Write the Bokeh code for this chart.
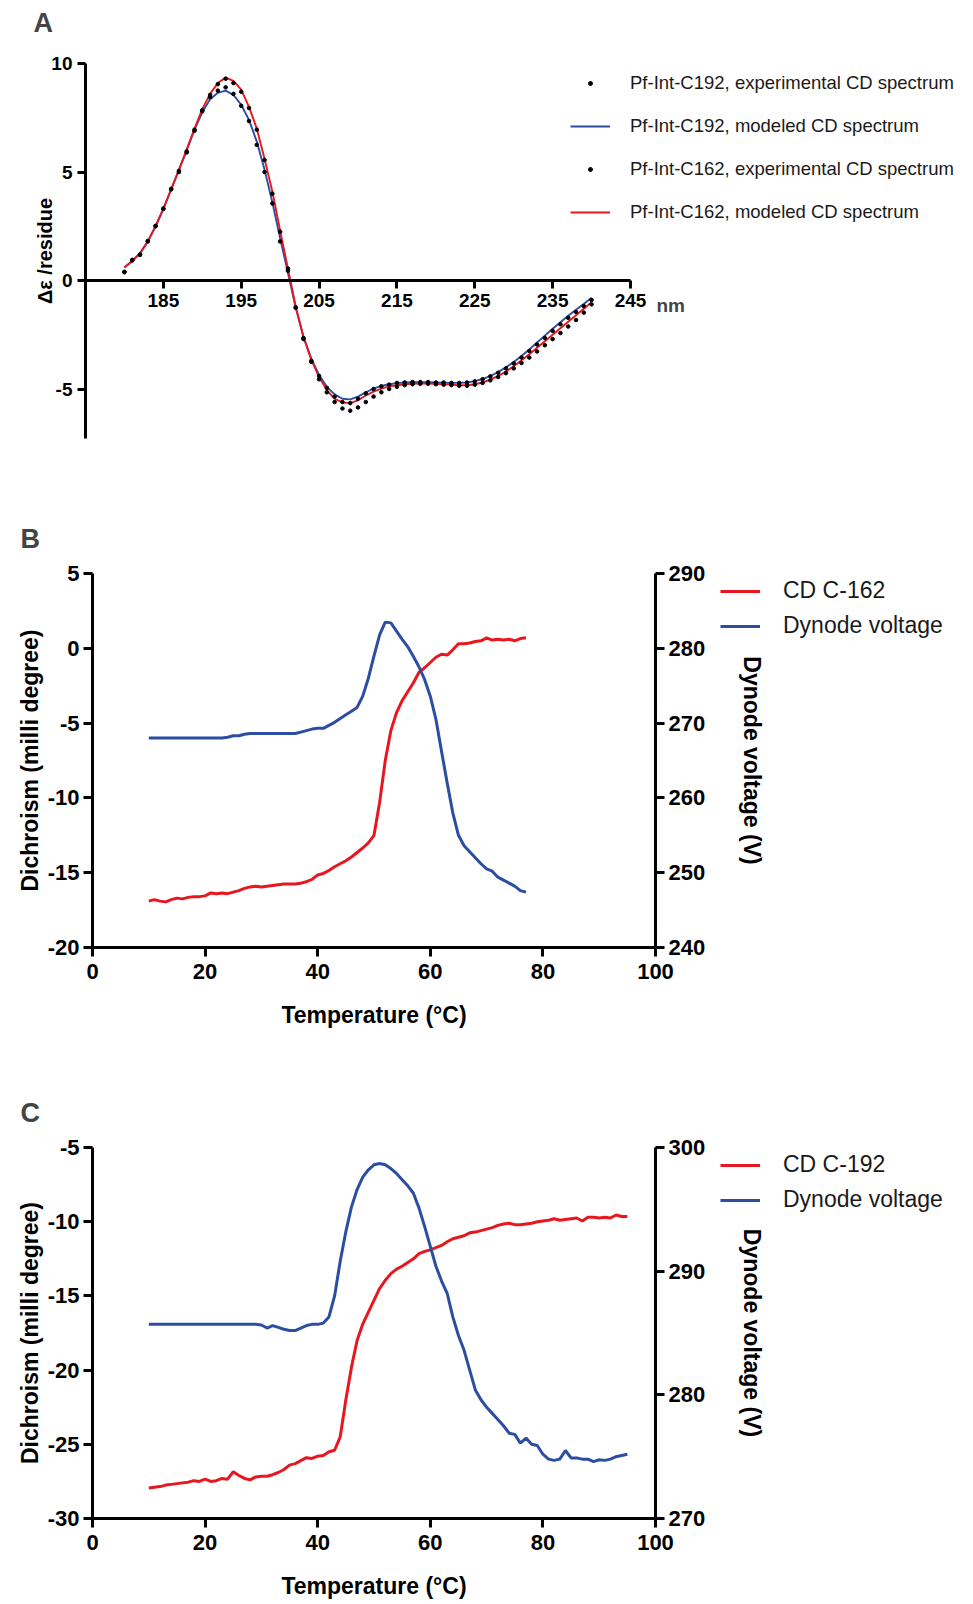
from bokeh.plotting import figure
from bokeh.models import Range1d, LinearAxis, FixedTicker, Legend, LegendItem, Label
from bokeh.layouts import column
from bokeh.embed import file_html
from bokeh.resources import INLINE

FONT = "Liberation Sans"
RED = "#E8171F"
BLUE = "#2B4EA2"

# ---------------- Panel A data ----------------
wavelength = list(range(180, 241))
exp_c192 = [0.38, 0.92, 1.18, 1.80, 2.50, 3.30, 4.20, 5.00, 5.90, 6.90,
            7.80, 8.45, 8.75, 8.90, 8.60, 8.05, 7.35, 6.25, 5.00, 3.55,
            1.80, 0.45, -1.25, -2.65, -3.70, -4.40, -4.95, -5.35, -5.60, -5.65,
            -5.45, -5.20, -5.00, -4.88, -4.80, -4.72, -4.70, -4.68, -4.68, -4.68,
            -4.70, -4.70, -4.72, -4.72, -4.70, -4.65, -4.55, -4.42, -4.25, -4.05,
            -3.82, -3.55, -3.25, -2.95, -2.65, -2.32, -2.02, -1.72, -1.45, -1.18, -0.90]
model_c192 = [0.60, 0.90, 1.25, 1.80, 2.50, 3.30, 4.20, 5.10, 6.00, 6.95,
              7.75, 8.35, 8.65, 8.75, 8.55, 8.10, 7.40, 6.40, 5.10, 3.60,
              1.95, 0.35, -1.25, -2.60, -3.60, -4.35, -4.90, -5.25, -5.45, -5.48,
              -5.35, -5.15, -4.98, -4.86, -4.78, -4.73, -4.70, -4.69, -4.69, -4.69,
              -4.70, -4.71, -4.72, -4.72, -4.70, -4.64, -4.54, -4.40, -4.22, -4.00,
              -3.76, -3.48, -3.18, -2.86, -2.54, -2.22, -1.92, -1.62, -1.35, -1.08, -0.80]
exp_c162 = [0.40, 0.95, 1.20, 1.82, 2.52, 3.32, 4.22, 5.05, 5.95, 6.95,
            7.85, 8.55, 9.05, 9.30, 9.10, 8.70, 7.95, 6.95, 5.55, 4.00,
            2.25, 0.55, -1.25, -2.70, -3.75, -4.55, -5.15, -5.60, -5.90, -6.00,
            -5.85, -5.60, -5.35, -5.15, -5.00, -4.90, -4.82, -4.78, -4.76, -4.76,
            -4.78, -4.80, -4.82, -4.85, -4.85, -4.80, -4.72, -4.60, -4.45, -4.27,
            -4.05, -3.80, -3.55, -3.27, -2.98, -2.70, -2.42, -2.12, -1.82, -1.48, -1.10]
model_c162 = [0.60, 0.90, 1.25, 1.80, 2.50, 3.30, 4.20, 5.10, 6.05, 7.00,
              7.90, 8.60, 9.10, 9.35, 9.20, 8.80, 8.00, 7.00, 5.60, 4.10,
              2.30, 0.55, -1.20, -2.60, -3.65, -4.45, -5.05, -5.45, -5.62, -5.65,
              -5.52, -5.30, -5.12, -4.98, -4.88, -4.83, -4.78, -4.76, -4.75, -4.75,
              -4.76, -4.78, -4.80, -4.83, -4.83, -4.78, -4.70, -4.57, -4.40, -4.20,
              -3.95, -3.68, -3.40, -3.10, -2.80, -2.50, -2.20, -1.90, -1.60, -1.30, -1.00]
a_xticks = [185, 195, 205, 215, 225, 235, 245]
a_yticks = [-5, 0, 5, 10]

# ---------------- Panel B data ----------------
temp_b = list(range(10, 78))
cd_c162 = [-16.9, -16.8, -16.9, -16.95, -16.8, -16.7, -16.75, -16.65, -16.6, -16.6,
           -16.55, -16.35, -16.4, -16.35, -16.4, -16.3, -16.2, -16.05, -15.95, -15.9,
           -15.95, -15.9, -15.85, -15.8, -15.75, -15.75, -15.75, -15.7, -15.6, -15.45,
           -15.15, -15.05, -14.85, -14.6, -14.4, -14.2, -13.95, -13.65, -13.35, -13.0,
           -12.5, -10.3, -7.5, -5.5, -4.3, -3.5, -2.9, -2.3, -1.6, -1.3,
           -0.95, -0.6, -0.4, -0.45, -0.1, 0.3, 0.3, 0.35, 0.45, 0.5,
           0.7, 0.55, 0.6, 0.55, 0.6, 0.5, 0.65, 0.7]
dyn_b = [268.0, 268.0, 268.0, 268.0, 268.0, 268.0, 268.0, 268.0, 268.0, 268.0,
         268.0, 268.0, 268.0, 268.0, 268.1, 268.3, 268.3, 268.5, 268.6, 268.6,
         268.6, 268.6, 268.6, 268.6, 268.6, 268.6, 268.6, 268.8, 269.0, 269.2,
         269.3, 269.3, 269.7, 270.1, 270.6, 271.1, 271.6, 272.1, 273.6, 276.0,
         279.0, 281.8, 283.5, 283.4, 282.3, 281.2, 280.2, 278.9, 277.5, 275.8,
         273.6, 270.5, 266.2, 262.0, 258.0, 255.0, 253.6, 252.8, 252.0, 251.2,
         250.5, 250.2, 249.4, 249.0, 248.6, 248.2, 247.6, 247.4]
b_left_ticks = [-20, -15, -10, -5, 0, 5]
b_right_ticks = [240, 250, 260, 270, 280, 290]

# ---------------- Panel C data ----------------
temp_c = list(range(10, 96))
cd_c192 = [-27.95, -27.9, -27.85, -27.75, -27.7, -27.65, -27.6, -27.55, -27.45, -27.5,
           -27.35, -27.5, -27.45, -27.3, -27.35, -26.85, -27.1, -27.3, -27.4, -27.2,
           -27.15, -27.15, -27.05, -26.9, -26.7, -26.4, -26.3, -26.1, -25.9, -25.95,
           -25.8, -25.75, -25.5, -25.4, -24.5, -22.0, -19.8, -18.0, -16.9, -16.1,
           -15.3, -14.5, -13.95, -13.5, -13.2, -13.0, -12.75, -12.5, -12.15, -12.0,
           -11.9, -11.75, -11.6, -11.35, -11.15, -11.05, -10.95, -10.75, -10.7, -10.6,
           -10.5, -10.4, -10.25, -10.15, -10.1, -10.2, -10.2, -10.15, -10.1, -10.0,
           -9.95, -9.9, -9.8, -9.9, -9.85, -9.8, -9.75, -9.95, -9.7, -9.7,
           -9.75, -9.7, -9.75, -9.55, -9.65, -9.65]
dyn_c = [285.7, 285.7, 285.7, 285.7, 285.7, 285.7, 285.7, 285.7, 285.7, 285.7,
         285.7, 285.7, 285.7, 285.7, 285.7, 285.7, 285.7, 285.7, 285.7, 285.7,
         285.65, 285.4, 285.6, 285.45, 285.3, 285.2, 285.2, 285.4, 285.6, 285.7,
         285.7, 285.8, 286.3, 288.0, 290.8, 293.2, 295.2, 296.6, 297.6, 298.2,
         298.6, 298.7, 298.6, 298.3, 297.9, 297.4, 296.9, 296.3, 295.1, 293.6,
         292.0, 290.4, 289.2, 288.2, 286.3, 284.8, 283.6, 282.0, 280.4, 279.6,
         279.0, 278.5, 278.0, 277.5, 276.9, 276.8, 276.1, 276.5, 276.0, 275.9,
         275.2, 274.8, 274.7, 274.8, 275.5, 274.9, 274.9, 274.8, 274.8, 274.6,
         274.75, 274.7, 274.8, 275.0, 275.1, 275.2]
c_left_ticks = [-30, -25, -20, -15, -10, -5]
c_right_ticks = [270, 280, 290, 300]
t_ticks = [0, 20, 40, 60, 80, 100]

PAGE_W = 957
X0 = 0  # page x of the figures' left edge


def lin(p0, v0, p1, v1):
    """Return a function mapping a page pixel to a data value."""
    k = (v1 - v0) / (p1 - p0)
    return lambda p: v0 + (p - p0) * k


def hyphen_labels(ticks):
    return {t: str(t) for t in ticks}


def style_axis(ax, tick_size, label_size, lw=3, tick_out=9):
    ax.axis_line_width = lw
    ax.axis_line_color = "black"
    ax.major_tick_line_width = lw
    ax.major_tick_out = tick_out
    ax.major_tick_in = 0
    ax.minor_tick_line_color = None
    ax.major_label_text_font = FONT
    ax.major_label_text_font_style = "bold"
    ax.major_label_text_font_size = tick_size
    ax.major_label_text_color = "black"
    ax.axis_label_text_font = FONT
    ax.axis_label_text_font_style = "bold"
    ax.axis_label_text_font_size = label_size
    ax.axis_label_text_color = "black"


def bare_fig(top, bottom, fx, fy):
    """Figure whose frame fills the whole canvas; fx/fy map page px to data."""
    p = figure(width=PAGE_W, height=bottom - top,
               x_range=Range1d(fx(X0), fx(X0 + PAGE_W)),
               y_range=Range1d(fy(bottom), fy(top)),
               x_axis_location=None, y_axis_location=None,
               output_backend="svg", toolbar_location=None,
               min_border=0)
    p.outline_line_color = None
    p.grid.visible = False
    p.background_fill_color = "white"
    p.border_fill_color = "white"
    return p


def make_legend(items, vx, vy, gw, gh, lh, sp, stand, fsize):
    leg = Legend(items=items, location=(vx, vy))
    leg.glyph_width = gw
    leg.glyph_height = gh
    leg.label_height = lh
    leg.spacing = sp
    leg.label_standoff = stand
    leg.padding = 0
    leg.margin = 0
    leg.border_line_color = None
    leg.background_fill_alpha = 0
    leg.label_text_font = FONT
    leg.label_text_font_size = fsize
    leg.label_text_color = "#1a1a1a"
    return leg


def letter(p, fx, fy, px, py, txt):
    p.add_layout(Label(x=fx(px), y=fy(py), text=txt, text_font=FONT,
                       text_font_style="bold", text_font_size="27px",
                       text_baseline="middle", text_align="left"))


# ================= Panel A =================
A_TOP, A_BOT = 0, 500
fxA = lin(85, 175, 630, 245)
fyA = lin(63, 10, 280, 0)
pA = bare_fig(A_TOP, A_BOT, fxA, fyA)
lA1 = pA.line(wavelength, model_c192, line_color=BLUE, line_width=1.9)
lA2 = pA.line(wavelength, model_c162, line_color=RED, line_width=1.9)
dA1 = pA.scatter(wavelength, exp_c192, size=3.6, color="black")
dA2 = pA.scatter(wavelength, exp_c162, size=3.6, color="black")

axA_x = LinearAxis(fixed_location=0, bounds=(175, 245),
                   ticker=FixedTicker(ticks=a_xticks))
style_axis(axA_x, "19px", "20px", tick_out=8)
axA_x.major_label_standoff = 5
pA.add_layout(axA_x, "below")
axA_y = LinearAxis(fixed_location=175, bounds=(-7.3, 10),
                   ticker=FixedTicker(ticks=a_yticks),
                   axis_label="\u0394\u03b5 /residue")
style_axis(axA_y, "19px", "20px", tick_out=8)
axA_y.major_label_overrides = hyphen_labels(a_yticks)
axA_y.axis_label_standoff = -8
pA.add_layout(axA_y, "left")

pA.add_layout(Label(x=245, y=0, x_offset=26, y_offset=-25, text="nm",
                    text_font=FONT, text_font_style="bold", text_font_size="19px",
                    text_baseline="middle", text_align="left"))
letter(pA, fxA, fyA, 33, 22, "A")
legA = make_legend([
    LegendItem(label="Pf-Int-C192, experimental CD spectrum", renderers=[dA1]),
    LegendItem(label="Pf-Int-C192, modeled CD spectrum", renderers=[lA1]),
    LegendItem(label="Pf-Int-C162, experimental CD spectrum", renderers=[dA2]),
    LegendItem(label="Pf-Int-C162, modeled CD spectrum", renderers=[lA2]),
], 570 - X0, A_BOT - 223, 40, 10, 20, 21, 20, "18.5px")
pA.add_layout(legA)


# ================= Panels B and C =================
def thermal_panel(letter_txt, top, bottom, ax_top, ax_bot, temps, cd, dyn,
                  yl, yr2, lticks, rticks, cd_label):
    fx = lin(92, 0, 655, 100)
    fy = lin(ax_top, yl[1], ax_bot, yl[0])
    fy2 = lin(ax_top, yr2[1], ax_bot, yr2[0])
    p = bare_fig(top, bottom, fx, fy)
    p.extra_y_ranges = {"dyn": Range1d(fy2(bottom), fy2(top))}
    r_cd = p.line(temps, cd, line_color=RED, line_width=3)
    r_dy = p.line(temps, dyn, line_color=BLUE, line_width=3, y_range_name="dyn")

    ax_x = LinearAxis(fixed_location=yl[0], bounds=(0, 100),
                      ticker=FixedTicker(ticks=t_ticks),
                      axis_label="Temperature (\u00b0C)")
    style_axis(ax_x, "22px", "23px")
    ax_x.major_label_standoff = 7
    ax_x.axis_label_standoff = 20
    p.add_layout(ax_x, "below")

    ax_l = LinearAxis(fixed_location=0, bounds=yl,
                      ticker=FixedTicker(ticks=lticks),
                      axis_label="Dichroism (milli degree)")
    style_axis(ax_l, "22px", "23px")
    ax_l.major_label_overrides = hyphen_labels(lticks)
    ax_l.major_label_standoff = 4
    ax_l.axis_label_standoff = 2
    p.add_layout(ax_l, "left")

    ax_r = LinearAxis(fixed_location=100, y_range_name="dyn", bounds=yr2,
                      ticker=FixedTicker(ticks=rticks),
                      axis_label="Dynode voltage (V)")
    style_axis(ax_r, "22px", "23px")
    ax_r.major_label_standoff = 4
    ax_r.axis_label_standoff = 31
    p.add_layout(ax_r, "right")

    letter(p, fx, fy, 20, ax_top - 35, letter_txt)
    leg_top = ax_top + 25 - 11
    leg = make_legend([LegendItem(label=cd_label, renderers=[r_cd]),
                       LegendItem(label="Dynode voltage", renderers=[r_dy])],
                      720 - X0, bottom - (leg_top + 52), 40, 22, 22, 8, 23, "23px")
    p.add_layout(leg)
    return p


pB = thermal_panel("B", 500, 1076, 573, 947, temp_b, cd_c162, dyn_b,
                   (-20, 5), (240, 290), b_left_ticks, b_right_ticks, "CD C-162")
pC = thermal_panel("C", 1076, 1600, 1147, 1518, temp_c, cd_c192, dyn_c,
                   (-30, -5), (270, 300), c_left_ticks, c_right_ticks, "CD C-192")

layout = column(pA, pB, pC)
open("out.html", "w").write(file_html(layout, INLINE))
